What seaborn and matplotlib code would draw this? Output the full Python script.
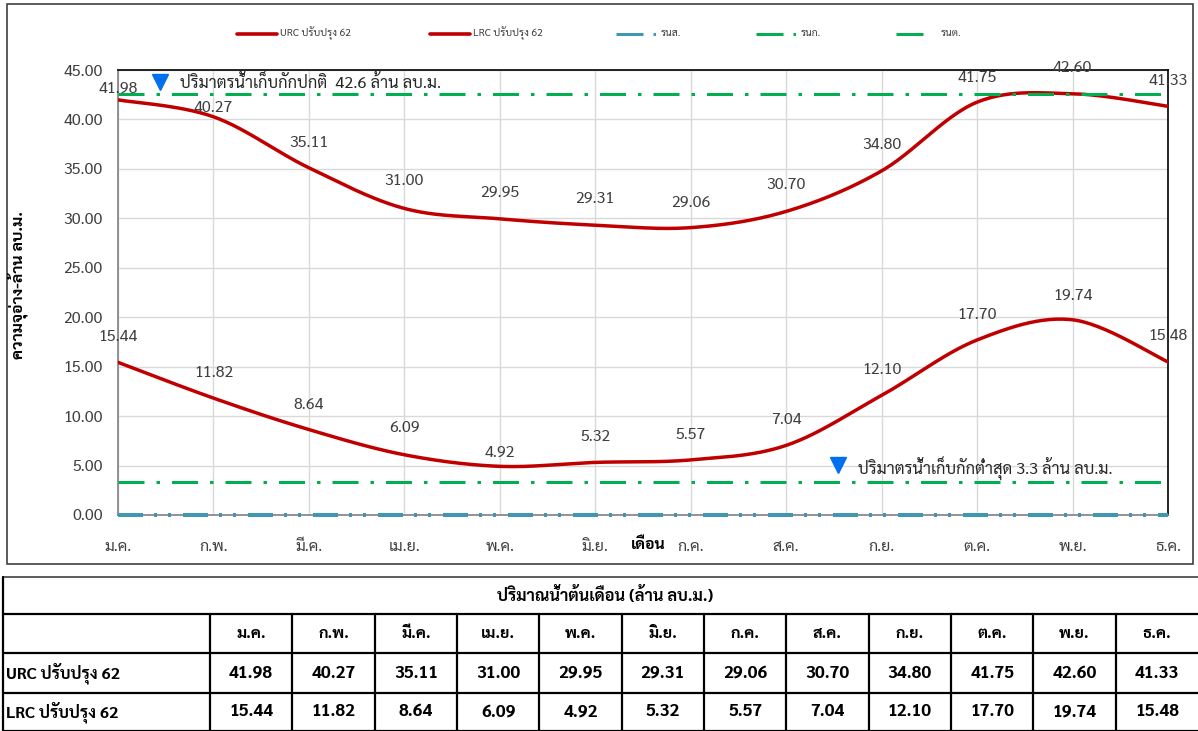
import matplotlib
matplotlib.use("Agg")
import numpy as np
import pandas as pd
import matplotlib.pyplot as plt
import seaborn as sns
from matplotlib import font_manager as fm
from matplotlib.patches import Rectangle


# chart data
months = ["ม.ค.", "ก.พ.", "มี.ค.", "เม.ย.", "พ.ค.", "มิ.ย.", "ก.ค.", "ส.ค.", "ก.ย.", "ต.ค.", "พ.ย.", "ธ.ค."]
urc = [41.98, 40.27, 35.11, 31.00, 29.95, 29.31, 29.06, 30.70, 34.80, 41.75, 42.60, 41.33]
lrc = [15.44, 11.82, 8.64, 6.09, 4.92, 5.32, 5.57, 7.04, 12.10, 17.70, 19.74, 15.48]
normal_storage = 42.6   # รนก.
min_storage = 3.3       # รนต.
dead_storage = 0.0      # รนส.

series_names = ["URC ปรับปรุง 62", "LRC ปรับปรุง 62"]
level_names = ["รนส.", "รนก.", "รนต."]
table_title = "ปริมาณน้ำต้นเดือน (ล้าน ลบ.ม.)"
normal_text = "ปริมาตรน้ำเก็บกักปกติ  42.6 ล้าน ลบ.ม."
min_text = "ปริมาตรน้ำเก็บกักต่ำสุด 3.3 ล้าน ลบ.ม."

sns.set_theme(style="white")

# pick a Thai font that also ships a bold weight
weights = {}
for f in fm.fontManager.ttflist:
    w = f.weight if isinstance(f.weight, int) else 400
    weights.setdefault(f.name, set()).add(w)
candidates = ["Sarabun", "Noto Sans Thai Looped", "Tahoma", "Leelawadee UI", "Noto Sans Thai",
              "Bai Jamjuree", "Chakra Petch", "Athiti"]
thai_font = next((n for n in candidates if n in weights and max(weights[n]) >= 600),
                 next((n for n in candidates if n in weights), "DejaVu Sans"))
plt.rcParams["font.family"] = [thai_font, "DejaVu Sans"]
plt.rcParams["lines.scale_dashes"] = False

RED = "#C00000"
GREEN = "#00B050"
BLUE = "#3F97B3"
TRI = "#0070F0"
PX = 0.72  # points per pixel at dpi 100


def smooth(values, n=30):
    """Excel-like smoothed line (cardinal bezier through the points)."""
    pts = np.column_stack([np.arange(len(values)), values]).astype(float)
    ext = np.vstack([pts[0], pts, pts[-1]])
    out = []
    for i in range(len(pts) - 1):
        p0, p1, p2, p3 = ext[i], ext[i + 1], ext[i + 2], ext[i + 3]
        c1 = p1 + (p2 - p0) / 6
        c2 = p2 - (p3 - p1) / 6
        t = np.linspace(0, 1, n)[:, None]
        seg = ((1 - t) ** 3) * p1 + 3 * ((1 - t) ** 2) * t * c1 + 3 * (1 - t) * t ** 2 * c2 + t ** 3 * p2
        out.append(seg if i == 0 else seg[1:])
    seg = np.vstack(out)
    return seg[:, 0], seg[:, 1]


fig = plt.figure(figsize=(11.98, 7.31), dpi=100)
ax = fig.add_axes([118 / 1198, 1 - 515 / 731, (1168 - 118) / 1198, (515 - 70) / 731])

# curves
for vals in (urc, lrc):
    xs, ys = smooth(vals)
    sns.lineplot(x=xs, y=ys, sort=False, ax=ax, color=RED, linewidth=2.5, zorder=4)

# reference levels
green_dash = (0, (26 * PX, 12 * PX, 3.5 * PX, 12 * PX))
blue_dash = (0, (25 * PX, 11 * PX, 3 * PX, 11 * PX, 3 * PX, 12 * PX))
ax.axhline(normal_storage, color=GREEN, linewidth=3 * PX, linestyle=green_dash, zorder=5)
ax.axhline(min_storage, color=GREEN, linewidth=3 * PX, linestyle=green_dash, zorder=5)
ax.axhline(dead_storage, color=BLUE, linewidth=4 * PX, linestyle=blue_dash, zorder=6, clip_on=False)

# data labels
urc_off = [11, 9, 25, 27, 26, 26, 25, 26, 26, 24, 26, 25]
lrc_off = [25, 25, 25, 27, 14, 25, 25, 25, 25, 25, 24, 26]
for vals, offs in ((urc, urc_off), (lrc, lrc_off)):
    for i, (v, o) in enumerate(zip(vals, offs)):
        ax.annotate(f"{v:.2f}", (i, v), xytext=(0, o * PX), textcoords="offset points",
                    ha="center", va="center", fontsize=11.5, color="#404040", zorder=7)

# storage annotations
ax.plot([0.44], [43.8], marker="v", markersize=11, color=TRI, linestyle="none", zorder=8, clip_on=False)
ax.text(0.65, 43.8, normal_text, fontsize=11.8, va="center", ha="left", color="#262626", zorder=8)
ax.plot([7.54], [5.06], marker="v", markersize=11, color=TRI, linestyle="none", zorder=8)
ax.text(7.75, 4.7, min_text, fontsize=11.8, va="center", ha="left", color="#262626", zorder=8)

# axes styling
ax.set_xlim(0, len(months) - 1)
ax.set_ylim(0, 45)
ax.set_xticks(range(len(months)))
ax.set_xticklabels(months)
ax.set_yticks(np.arange(0, 46, 5))
ax.set_yticklabels([f"{t:.2f}" for t in np.arange(0, 46, 5)])
ax.tick_params(axis="both", labelsize=11.5, colors="#404040", length=5, width=1, direction="out")
ax.tick_params(axis="x", pad=13)
ax.tick_params(axis="y", pad=6)
ax.grid(True, color="#D9D9D9", linewidth=1)
for side in ("left", "bottom"):
    ax.spines[side].set_color("#808080")
    ax.spines[side].set_linewidth(1.2)
for side in ("top", "right"):
    ax.spines[side].set_color("black")
    ax.spines[side].set_linewidth(1.2)
ax.set_xlabel("")
ax.set_ylabel("")

# overlay in pixel coordinates for frame, labels, legend and table
ov = fig.add_axes([0, 0, 1, 1], zorder=-1)
ov.set_xlim(0, 1198)
ov.set_ylim(731, 0)
ov.axis("off")
ov.add_patch(Rectangle((7, 4), 1186, 560, fill=False, edgecolor="#404040", linewidth=1.2))

top = fig.add_axes([0, 0, 1, 1], zorder=10)
top.set_xlim(0, 1198)
top.set_ylim(731, 0)
top.axis("off")
top.text(18, 285, "ความจุอ่าง-ล้าน ลบ.ม.", rotation=90, ha="center", va="center",
         fontsize=11.5, fontweight="bold", color="black")
top.text(648, 545, "เดือน", ha="center", va="center", fontsize=11.5, fontweight="bold", color="black")

# legend (drawn by hand to follow the spacing of the original)
legend_items = [
    (series_names[0], RED, "-", 237, 40, 2.6),
    (series_names[1], RED, "-", 430, 40, 2.6),
    (level_names[0], BLUE, (0, (27 * PX, 10 * PX, 2.5 * PX, 60 * PX)), 616, 42, 3 * PX),
    (level_names[1], GREEN, (0, (27 * PX, 10 * PX, 2.5 * PX, 60 * PX)), 756, 42, 3 * PX),
    (level_names[2], GREEN, (0, (27 * PX, 60 * PX)), 896, 42, 3 * PX),
]
for name, color, ls, x0, length, lw in legend_items:
    top.plot([x0, x0 + length], [34, 34], color=color, linestyle=ls, linewidth=lw,
             solid_capstyle="round", dash_capstyle="butt")
    top.text(x0 + length + 3, 33, name, ha="left", va="center", fontsize=7.5, color="#404040")

# table
col_x = [3, 210] + [210 + (1198 - 210) / 12 * (i + 1) for i in range(12)]
row_y = [577, 614, 653, 693, 731]
top.plot([3, 1198], [row_y[0], row_y[0]], color="#404040", linewidth=1.2)
for y in row_y[1:]:
    top.plot([3, 1198], [y, y], color="black", linewidth=1.6)
top.plot([3, 3], [row_y[0], row_y[-1]], color="black", linewidth=1.6)
for x in col_x[1:-1]:
    top.plot([x, x], [row_y[1], row_y[-1]], color="black", linewidth=1.6)
top.text(605, (row_y[0] + row_y[1]) / 2, table_title, ha="center", va="center",
         fontsize=11.8, fontweight="bold", color="black")
for i, m in enumerate(months):
    cx = (col_x[i + 1] + col_x[i + 2]) / 2
    top.text(cx, (row_y[1] + row_y[2]) / 2, m, ha="center", va="center", fontsize=11.5,
             fontweight="bold", color="black")
    top.text(cx, (row_y[2] + row_y[3]) / 2, f"{urc[i]:.2f}", ha="center", va="center",
             fontsize=12.5, fontweight="bold", color="black")
    top.text(cx, (row_y[3] + row_y[4]) / 2, f"{lrc[i]:.2f}", ha="center", va="center",
             fontsize=12.5, fontweight="bold", color="black")
for name, y0, y1 in ((series_names[0], row_y[2], row_y[3]), (series_names[1], row_y[3], row_y[4])):
    top.text(6, (y0 + y1) / 2, name, ha="left", va="center", fontsize=11.8, fontweight="bold", color="black")

fig.savefig("out.png", dpi=100)
